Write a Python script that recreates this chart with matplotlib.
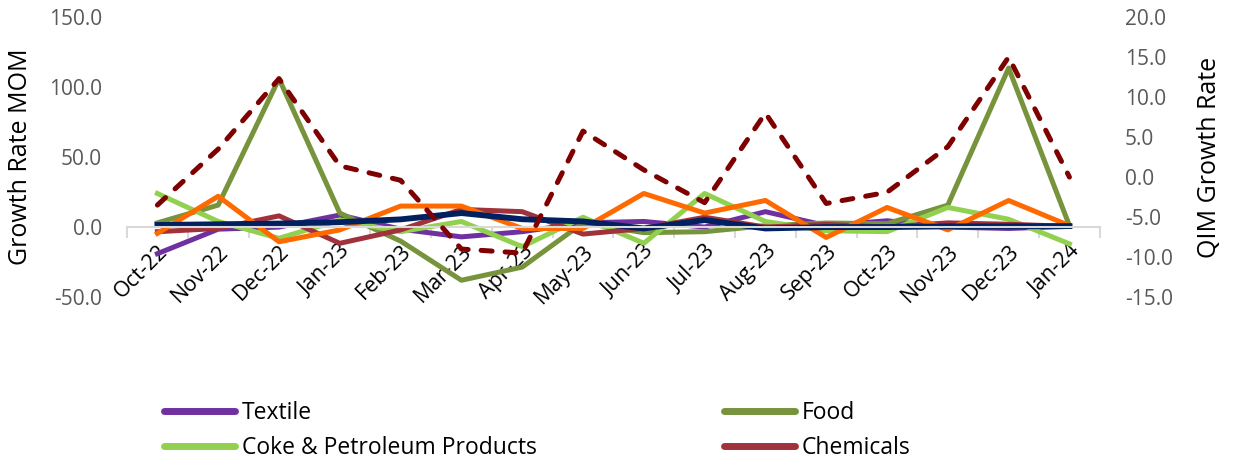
import matplotlib
matplotlib.use('Agg')
import matplotlib.pyplot as plt
import numpy as np
from matplotlib.lines import Line2D

plt.rcParams['font.family'] = ['Open Sans', 'DejaVu Sans']

months = ['Oct-22', 'Nov-22', 'Dec-22', 'Jan-23', 'Feb-23', 'Mar-23', 'Apr-23', 'May-23',
          'Jun-23', 'Jul-23', 'Aug-23', 'Sep-23', 'Oct-23', 'Nov-23', 'Dec-23', 'Jan-24']

# left axis: growth rate MOM
textile = [-19, -1.5, 0, 8.6, -1.5, -7, -3.3, 3, 4, 0, 11, 1, 4.5, 0, -1, 0.5]
food = [3, 15.7, 106, 10, -10, -38, -28.6, 3, -4, -3.3, 1, 2.9, 2.4, 15.7, 113.6, 1]
coke = [24, 4, -8, 5, -3.3, 4, -14, 7, -11.6, 24, 4, -2.6, -3.3, 14, 5.6, -12]
chemicals = [-3.3, -1, 8, -11.6, -2, 12.6, 11, -5, -1, 7, 0, 1.9, 0, 3, 2, 0.5]
orange_series = [-4.5, 22, -10.5, -2, 15, 15, -1, -1, 24, 10, 19, -7.4, 14, -2, 19, 1]
navy_series = [1.5, 2, 2.5, 3.5, 5.5, 10, 5.6, 4, -1, 5, -1, 0, 0, 0.5, 0.5, 0.7]

# right axis: QIM growth rate
qim = [-3.5, 3.5, 12.3, 1.4, -0.4, -9, -9.5, 5.75, 0.9, -3.2, 8.0, -3.3, -1.9, 3.8, 15.0, 0.0]

x = np.arange(len(months))
lw = 3.6

fig = plt.figure(figsize=(12.33, 4.62), dpi=100)
ax = fig.add_axes([0.103, 0.357, 0.789, 0.606])

ax.plot(x, textile, color='#7030A0', lw=lw, solid_joinstyle='round')
ax.plot(x, food, color='#77933C', lw=lw, solid_joinstyle='round')
ax.plot(x, coke, color='#92D050', lw=lw, solid_joinstyle='round')
ax.plot(x, chemicals, color='#A0323C', lw=lw, solid_joinstyle='round')
ax.plot(x, orange_series, color='#FF6A00', lw=lw, solid_joinstyle='round')
ax.plot(x, navy_series, color='#002060', lw=4.2, solid_joinstyle='round')

ax.set_xlim(-0.5, len(months) - 0.5)
ax.set_ylim(-50, 150)
ax.set_yticks(np.arange(-50, 151, 50))
ax.set_yticklabels(['%.1f' % v for v in np.arange(-50, 151, 50)])
ax.tick_params(axis='y', length=0, pad=18, labelsize=15, labelcolor='#595959')

for s in ['top', 'right', 'left']:
    ax.spines[s].set_visible(False)
ax.spines['bottom'].set_position(('data', 0))
ax.spines['bottom'].set_color('#D9D9D9')
ax.spines['bottom'].set_linewidth(1.5)

ax.set_xticks(x)
ax.set_xticklabels(months, rotation=45, ha='right', rotation_mode='anchor')
ax.set_xticks(np.arange(-0.5, len(months)), minor=True)
ax.tick_params(axis='x', which='major', length=0, pad=10, labelsize=15.5, labelcolor='black')
ax.tick_params(axis='x', which='minor', length=8, width=1.5, color='#D9D9D9', direction='out')

ax.set_ylabel('Growth Rate MOM', fontsize=18, color='black')
ax.yaxis.set_label_coords(-0.0966, 0.5)

ax2 = ax.twinx()
ax2.plot(x, qim, color='#7F0000', lw=lw, linestyle=(0, (2.2, 2.6)), dash_capstyle='round')
ax2.set_ylim(-15, 20)
ax2.set_yticks(np.arange(-15, 21, 5))
ax2.set_yticklabels(['%.1f' % v for v in np.arange(-15, 21, 5)])
ax2.tick_params(axis='y', length=0, pad=18, labelsize=15, labelcolor='#595959')
for s in ax2.spines.values():
    s.set_visible(False)
ax2.set_ylabel('QIM Growth Rate', fontsize=18, color='black', rotation=90)
ax2.yaxis.set_label_coords(1.0997, 0.5)

leg_font = 16.5
leg_kw = dict(loc='upper left', frameon=False, fontsize=leg_font, handlelength=3.1,
              handletextpad=0.3, borderpad=0, borderaxespad=0, labelspacing=0.5)
h1 = [Line2D([], [], color='#7030A0', lw=5, solid_capstyle='round'),
      Line2D([], [], color='#92D050', lw=5, solid_capstyle='round')]
h2 = [Line2D([], [], color='#77933C', lw=5, solid_capstyle='round'),
      Line2D([], [], color='#A0323C', lw=5, solid_capstyle='round')]
fig.legend(h1, ['Textile', 'Coke & Petroleum Products'],
           bbox_to_anchor=(164 / 1233, 1 - 401 / 462), **leg_kw)
fig.legend(h2, ['Food', 'Chemicals'],
           bbox_to_anchor=(724 / 1233, 1 - 401 / 462), **leg_kw)

fig.savefig('out.png', dpi=100)
